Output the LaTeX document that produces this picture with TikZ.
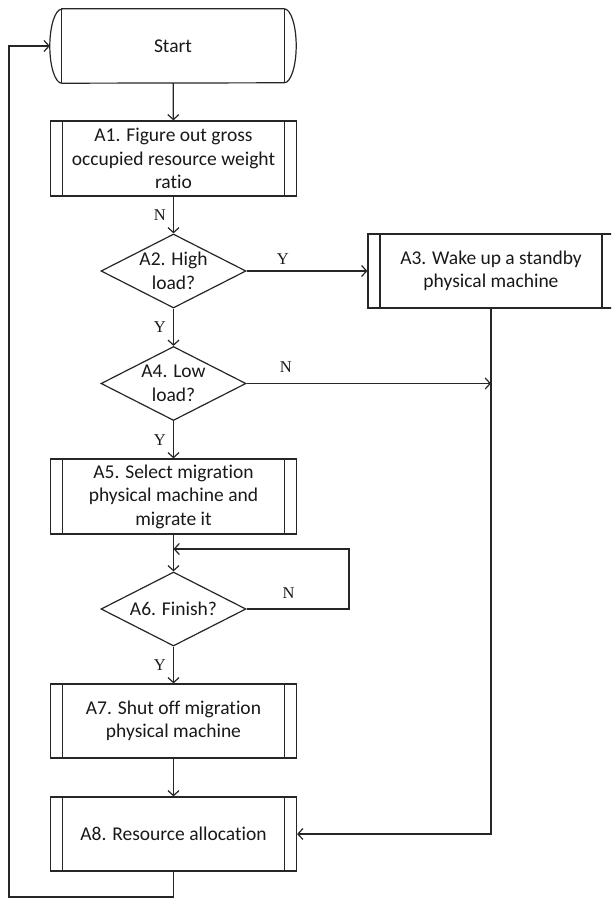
\documentclass[tikz,border=0pt]{standalone}
\usepackage{fontspec}
\setmainfont[Ligatures=NoCommon]{Carlito}
\newfontfamily\ynfont{Liberation Serif}
\usetikzlibrary{arrows.meta,shapes.geometric,calc}
\begin{document}
\begin{tikzpicture}[x=1pt,y=-1pt,
  flow/.style={line width=1.2pt, draw=black!85},
  arr/.style={flow, -{Straight Barb[length=5pt,width=11pt,line width=1.2pt]}},
  txt/.style={align=center, font=\fontsize{19.5}{23.5}\selectfont, text=black!90},
  procbox/.style={txt, draw=black!85, line width=1.2pt, minimum width=246pt,
    minimum height=74pt, inner sep=0pt,
    path picture={\draw[line width=1.2pt, black!85]
      ([xshift=12pt]path picture bounding box.north west) --
      ([xshift=12pt]path picture bounding box.south west)
      ([xshift=-12pt]path picture bounding box.north east) --
      ([xshift=-12pt]path picture bounding box.south east);}},
  decision/.style={diamond, draw=black!85, line width=1.2pt,
    minimum width=145pt, minimum height=74pt, inner sep=0pt},
  yn/.style={font=\ynfont\fontsize{16.5}{16.5}\selectfont, inner sep=0pt, text=black!90}
]
\clip (0,0) rectangle (611,899);
\fill[white] (0,0) rectangle (611,899);

% terminal: capsule with inner rules
\node[txt, minimum width=246pt, minimum height=74pt, inner sep=0pt] (start) at (173,46) {Start};
\draw[flow] ([xshift=12pt]start.north west) -- ([xshift=-12pt]start.north east)
  arc[start angle=90, end angle=-90, x radius=12pt, y radius=37pt]
  -- ([xshift=12pt]start.south west)
  arc[start angle=270, end angle=90, x radius=12pt, y radius=37pt] -- cycle;
\draw[flow] ([xshift=12pt]start.north west) -- ([xshift=12pt]start.south west);
\draw[flow] ([xshift=-12pt]start.north east) -- ([xshift=-12pt]start.south east);

% process steps
\node[procbox, minimum height=75pt] (a1) at (173.5,158.5) {A1. Figure out gross\\occupied resource weight\\ratio};
\node[procbox] (a3) at (491,271) {A3. Wake up a standby\\physical machine};
\node[procbox, minimum height=75pt] (a5) at (173.5,496.5) {A5. Select migration\\physical machine and\\migrate it};
\node[procbox] (a7) at (173.5,721) {A7. Shut off migration\\physical machine};
\node[procbox] (a8) at (173.5,834) {A8. Resource allocation};

% decisions
\node[decision, label={[txt, name=a2t]center:A2. High\\load?}] (a2) at (173.5,271) {};
\node[decision, label={[txt, name=a4t]center:A4. Low\\load?}] (a4) at (173.5,383.5) {};
\node[decision, label={[txt, name=a6t]center:A6. Finish?}] (a6) at (173.5,609) {};

% helper points
\coordinate (j1) at (a3.south |- a4.east);
\coordinate (j2) at (a3.south |- a8.east);
\coordinate (m6) at (173.5,549);
\coordinate (c6) at (349,549);
\coordinate (b1) at (173.5,897);
\coordinate (b2) at (9,897);

% connectors
\draw[arr] (start) -- (a1);
\draw[arr] (a1) -- node[yn, left=7pt] (l1) {N} (a2);
\draw[arr] (a2) -- node[yn, above=6pt, pos=0.3] (l2) {Y} (a3);
\draw[arr] (a2) -- node[yn, left=7pt] (l3) {Y} (a4);
\draw[arr] (a4.east) -- node[yn, above=10pt, pos=0.16] (l4) {N} (j1);
\draw[arr] (a3.south) -- (j2) -- (a8.east);
\draw[arr] (a4) -- node[yn, left=7pt] (l5) {Y} (a5);
\draw[arr] (a5) -- (a6);
\draw[arr] (a6.east) -- node[yn, above=10pt, pos=0.41] (l6) {N} (a6.east -| c6) -- (c6) -- (m6);
\draw[arr] (a6) -- node[yn, left=7pt] (l7) {Y} (a7);
\draw[arr] (a7) -- (a8);
\draw[arr] (a8.south) -- (b1) -- (b2) -- (b2 |- start.west) -- (start.west);
\end{tikzpicture}
\end{document}
